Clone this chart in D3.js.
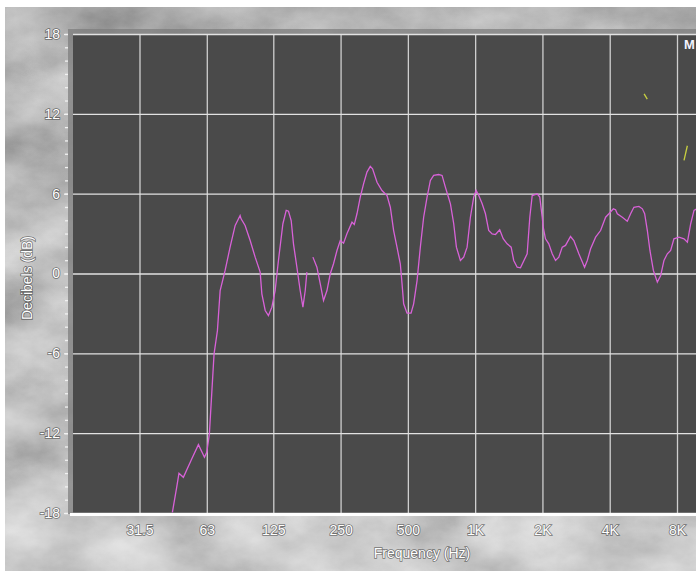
<!DOCTYPE html>
<html>
<head>
<meta charset="utf-8">
<script src="https://cdn.jsdelivr.net/npm/d3@7/dist/d3.min.js"></script>
<style>
  html, body { margin: 0; padding: 0; background: #fff; overflow: hidden; }
  svg text { font-family: "Liberation Sans", Arial, sans-serif; }
</style>
</head>
<body>
<div id="chart"></div>
<script>
// x axis ticks (Hz) and their labels
const freqTicks = [31.5, 63, 125, 250, 500, 1000, 2000, 4000, 8000];
const freqLabels = ["31.5", "63", "125", "250", "500", "1K", "2K", "4K", "8K"];
// y axis ticks (dB)
const dbTicks = [-18, -12, -6, 0, 6, 12, 18];
const dbMinor = d3.range(-18, 19, 1);

// response curve (null = break in the trace)
const freqHz = [44.2, 46.2, 47.3, 49.5, 54.0, 57.8, 61.5, 63.0, 64.7, 67.9, 70.3, 72.3, 76.1, 80.1, 84.4, 88.8, 89.7, 93.5, 98.5, 103.7,
  109.2, 111.1, 115.0, 118.9, 123.2, 127.4, 131.8, 138.0, 142.8, 146.2, 150.3, 153.9, 159.4, 164.9, 169.6, 173.7, 176.7, 182,
  188.0, 195.9, 202.7, 209.7, 217.3, 224.8, 232.5, 240.9, 249.2, 257.8, 266.9, 281.2, 287.9, 296.0, 306.2, 316.8, 328.1, 339.5,
  347.6, 363.9, 383.0, 403.4, 417.4, 431.8, 447.0, 462.5, 470.9, 478.8, 495.7, 516.7, 530.7, 549.7, 568.6, 588.3, 609.4, 630.5,
  652.3, 686.6, 711.2, 735.9, 775.2, 801.9, 824.4, 859.0, 888.7, 920.4, 952.3, 985.3, 1010, 1038, 1075, 1112, 1150, 1191, 1233,
  1288, 1335, 1390, 1449, 1488, 1542, 1595, 1709, 1756, 1800, 1895, 1946, 1996, 2016, 2064, 2135, 2212, 2289, 2368, 2453, 2537,
  2671, 2764, 2911, 3087, 3175, 3285, 3459, 3641, 3834, 3966, 4152, 4249, 4325, 4555, 4794, 4961, 5131, 5405, 5598, 5733, 5894,
  6054, 6272, 6533, 6763, 6996, 7242, 7494, 7752, 8165, 8596, 8905, 9214, 9532, 9800, 10300];
const gainDb = [-17.95, -16.07, -15.02, -15.32, -13.93, -12.86, -13.81, -13.44, -12.05, -6.04, -4.29, -1.28, 0.23, 1.98, 3.61, 4.36, 4.11, 3.61, 2.48, 1.23,
  0.10, -1.53, -2.78, -3.16, -2.53, -1.28, 0.98, 3.74, 4.74, 4.68, 3.98, 2.23, 0.47, -1.28, -2.53, -1.28, 0.10, null,
  1.23, 0.47, -0.77, -2.03, -1.28, -0.02, 0.73, 1.73, 2.48, 2.28, 2.98, 3.86, 3.68, 4.49, 5.74, 6.74, 7.62, 8.05,
  7.87, 6.86, 6.24, 5.86, 4.98, 3.23, 1.98, 0.73, -0.77, -2.28, -2.98, -2.98, -2.28, -0.53, 1.98, 4.23, 5.74, 6.99,
  7.37, 7.44, 7.37, 6.49, 5.24, 3.74, 1.98, 0.98, 1.23, 1.98, 4.23, 5.74, 6.24, 5.86, 5.24, 4.49, 3.23, 2.98, 2.93,
  3.29, 2.61, 2.23, 1.98, 0.98, 0.47, 0.43, 1.48, 4.23, 5.86, 5.99, 5.74, 4.23, 3.48, 2.61, 2.23, 1.48, 0.98, 1.23, 1.98, 2.11,
  2.78, 2.48, 1.48, 0.47, 0.98, 1.86, 2.73, 3.23, 4.23, 4.49, 4.86, 4.79, 4.49, 4.23, 3.93, 4.49, 4.98, 5.04, 4.86, 4.49, 3.23,
  1.73, 0.23, -0.65, -0.15, 0.98, 1.48, 1.73, 2.61, 2.73, 2.61, 2.35, 3.74, 4.74, 4.86, 4.9];

// stray fragments of a second (yellow) trace
const yellowHz = [[5700, 5890], [8600, 8900]];
const yellowDb = [[13.5, 13.1], [8.5, 9.6]];

const width = 696, height = 571;
const plot = { top: 34, bottom: 514, left: 73, right: 760 };

const svg = d3.select("#chart").append("svg")
  .attr("width", width)
  .attr("height", height);

// marbled grey backdrop
const defs = svg.append("defs");
const marble = defs.append("filter").attr("id", "marble")
  .attr("x", 0).attr("y", 0).attr("width", 1).attr("height", 1);
marble.append("feTurbulence")
  .attr("type", "fractalNoise")
  .attr("baseFrequency", "0.012 0.018")
  .attr("numOctaves", 6)
  .attr("seed", 11);
marble.append("feColorMatrix")
  .attr("type", "matrix")
  .attr("values", "0.55 0 0 0 0.24  0.55 0 0 0 0.24  0.55 0 0 0 0.24  0 0 0 0 1");
defs.append("clipPath").attr("id", "plotClip")
  .append("rect")
  .attr("x", plot.left).attr("y", plot.top)
  .attr("width", plot.right - plot.left).attr("height", plot.bottom - plot.top);

svg.append("rect")
  .attr("x", 5).attr("y", 7)
  .attr("width", width - 5).attr("height", height - 7)
  .attr("filter", "url(#marble)");
// lighter toward the bottom, as in the original
const fade = defs.append("linearGradient").attr("id", "fade")
  .attr("x1", 0).attr("y1", 0).attr("x2", 0).attr("y2", 1);
fade.append("stop").attr("offset", "0%").attr("stop-color", "#000").attr("stop-opacity", 0.08);
fade.append("stop").attr("offset", "75%").attr("stop-color", "#fff").attr("stop-opacity", 0.0);
fade.append("stop").attr("offset", "100%").attr("stop-color", "#fff").attr("stop-opacity", 0.25);
svg.append("rect")
  .attr("x", 5).attr("y", 7)
  .attr("width", width - 5).attr("height", height - 7)
  .attr("fill", "url(#fade)");

// scales
const xscale = d3.scaleLog().domain([31.5, 8000]).range([139.5, 677]);
const yscale = d3.scaleLinear().domain([-18, 18]).range([plot.bottom - 1, plot.top]);

// light frame strips at the top and left of the plot
svg.append("rect")
  .attr("x", plot.left - 5).attr("y", plot.top - 5)
  .attr("width", plot.right - plot.left + 5).attr("height", plot.bottom - plot.top + 5)
  .attr("fill", "#7a7a7a").attr("opacity", 0.7);
svg.append("rect")
  .attr("x", plot.left).attr("y", plot.top)
  .attr("width", plot.right - plot.left).attr("height", plot.bottom - plot.top)
  .attr("fill", "#4a4a4a");

// grid lines
svg.append("g")
  .attr("class", "gridLine")
  .attr("transform", "translate(0," + plot.bottom + ")")
  .call(d3.axisBottom(xscale).tickValues(freqTicks)
    .tickSize(-(plot.bottom - plot.top)).tickFormat(""))
  .call(g => g.select(".domain").remove())
  .call(g => g.selectAll("line").attr("stroke", "#cfcfcf").attr("stroke-width", 1.3));

svg.append("g")
  .attr("class", "gridLine")
  .attr("transform", "translate(" + plot.left + ",0)")
  .call(d3.axisLeft(yscale).tickValues(dbTicks)
    .tickSize(-(plot.right - plot.left)).tickFormat(""))
  .call(g => g.select(".domain").remove())
  .call(g => g.selectAll("line").attr("stroke", "#e2e2e2").attr("stroke-width", 1.3));

// response curve
const valueline = d3.line()
  .defined(d => d[1] !== null)
  .x(d => xscale(d[0]))
  .y(d => yscale(d[1]));

const curve = svg.append("g").attr("clip-path", "url(#plotClip)");
curve.append("path")
  .datum(freqHz.map((f, i) => [f, gainDb[i]]))
  .attr("fill", "none")
  .attr("stroke", "#d862d8")
  .attr("stroke-width", 1.3)
  .attr("d", valueline);

yellowHz.forEach((seg, k) => {
  curve.append("path")
    .datum(seg.map((f, i) => [f, yellowDb[k][i]]))
    .attr("fill", "none")
    .attr("stroke", "#c8d040")
    .attr("stroke-width", 1.3)
    .attr("d", valueline);
});

// legend text, cut off by the window edge
svg.append("text")
  .attr("x", 684).attr("y", 49)
  .attr("fill", "#f4f4ff")
  .style("font-size", "13px")
  .style("font-weight", "bold")
  .text("M");

// x axis: thick white base line and labels
svg.append("line")
  .attr("x1", plot.left - 3).attr("x2", plot.right)
  .attr("y1", plot.bottom + 0.5).attr("y2", plot.bottom + 0.5)
  .attr("stroke", "#fff").attr("stroke-width", 3);

const labelStyle = g => g.selectAll("text")
  .attr("fill", "#ffffff")
  .style("font-size", "14px")
  .style("font-family", "'Liberation Sans', Arial, sans-serif")
  .style("paint-order", "stroke")
  .attr("stroke", "rgba(50,50,50,0.6)")
  .attr("stroke-width", 1.6);

svg.append("g")
  .attr("id", "x_axis")
  .attr("transform", "translate(0," + plot.bottom + ")")
  .call(d3.axisBottom(xscale).tickValues(freqTicks)
    .tickFormat((d, i) => freqLabels[i]).tickSize(0).tickPadding(11))
  .call(g => g.select(".domain").remove())
  .call(labelStyle);

// y axis: minor dashes then labelled ticks
svg.append("g")
  .attr("transform", "translate(68,0)")
  .call(d3.axisLeft(yscale).tickValues(dbMinor).tickSize(3).tickFormat(""))
  .call(g => g.select(".domain").remove())
  .call(g => g.selectAll("line").attr("stroke", "#f2f2f2").attr("stroke-width", 1.3));

svg.append("g")
  .attr("id", "y_axis")
  .attr("transform", "translate(68,0)")
  .call(d3.axisLeft(yscale).tickValues(dbTicks).tickSize(4).tickPadding(4)
    .tickFormat(d => String(d)))
  .call(g => g.select(".domain").remove())
  .call(g => g.selectAll("line").attr("stroke", "#f2f2f2").attr("stroke-width", 1.3))
  .call(labelStyle);

// axis titles
const titles = svg.append("g");
titles.append("text")
  .attr("x", 422).attr("y", 558)
  .attr("text-anchor", "middle")
  .text("Frequency (Hz)");
titles.append("text")
  .attr("transform", "translate(32,278) rotate(-90)")
  .attr("text-anchor", "middle")
  .text("Decibels (dB)");
titles.call(labelStyle);
</script>
</body>
</html>
